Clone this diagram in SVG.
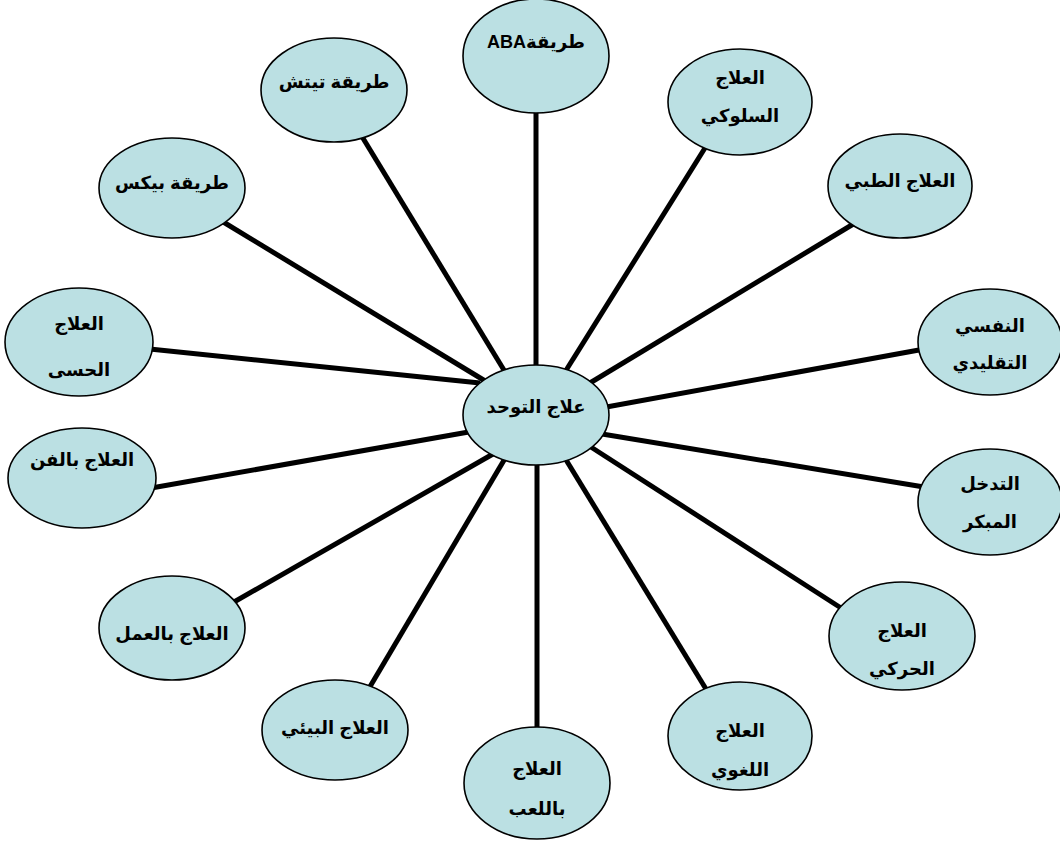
<svg xmlns="http://www.w3.org/2000/svg" width="1060" height="843" viewBox="0 0 1060 843">
<style>
.n ellipse{fill:#BBE0E3;stroke:#000;stroke-width:1.6}
.n text{font-family:"Liberation Sans","DejaVu Sans",sans-serif;font-weight:bold;font-size:18px;text-anchor:middle;fill:#000;direction:rtl}
#connectors line{stroke:#000;stroke-width:5}
</style>
<rect width="1060" height="843" fill="#fff"/>
<g id="connectors">
<line x1="536" y1="100" x2="536" y2="380"/>
<line x1="358" y1="130" x2="510" y2="380"/>
<line x1="710" y1="140" x2="560" y2="380"/>
<line x1="220" y1="220" x2="500" y2="390"/>
<line x1="860" y1="220" x2="575" y2="392"/>
<line x1="140" y1="348" x2="480" y2="383"/>
<line x1="930" y1="348" x2="590" y2="410"/>
<line x1="140" y1="490" x2="480" y2="430"/>
<line x1="930" y1="488" x2="590" y2="432"/>
<line x1="220" y1="610" x2="500" y2="450"/>
<line x1="855" y1="617" x2="580" y2="440"/>
<line x1="355" y1="712" x2="510" y2="450"/>
<line x1="720" y1="712" x2="560" y2="450"/>
<line x1="537" y1="740" x2="537" y2="450"/>
</g>
<g id="center" class="n"><ellipse cx="536" cy="415" rx="73" ry="50"/><text x="536" y="413">علاج التوحد</text></g>
<g id="aba" class="n"><ellipse cx="536" cy="56" rx="73" ry="57"/><text x="536" y="48">طريقةABA</text></g>
<g id="teach" class="n"><ellipse cx="334" cy="90" rx="73" ry="52"/><text x="334" y="88">طريقة تيتش</text></g>
<g id="behav" class="n"><ellipse cx="740" cy="102" rx="72" ry="53"/><text x="740" y="84">العلاج</text><text x="740" y="122">السلوكي</text></g>
<g id="pecs" class="n"><ellipse cx="172" cy="188" rx="73" ry="50"/><text x="172" y="189">طريقة بيكس</text></g>
<g id="medical" class="n"><ellipse cx="900" cy="186" rx="72" ry="52"/><text x="900" y="187">العلاج الطبي</text></g>
<g id="sensory" class="n"><ellipse cx="79" cy="342" rx="74" ry="54"/><text x="79" y="330">العلاج</text><text x="79" y="376">الحسى</text></g>
<g id="psych" class="n"><ellipse cx="990" cy="342" rx="72" ry="53"/><text x="990" y="332">النفسي</text><text x="990" y="369">التقليدي</text></g>
<g id="art" class="n"><ellipse cx="82" cy="478" rx="74" ry="50"/><text x="82" y="466">العلاج بالفن</text></g>
<g id="early" class="n"><ellipse cx="990" cy="502" rx="72" ry="53"/><text x="990" y="490">التدخل</text><text x="990" y="528">المبكر</text></g>
<g id="work" class="n"><ellipse cx="172" cy="628" rx="73" ry="52"/><text x="172" y="640">العلاج بالعمل</text></g>
<g id="motor" class="n"><ellipse cx="902" cy="636" rx="73" ry="54"/><text x="902" y="637">العلاج</text><text x="902" y="675">الحركي</text></g>
<g id="env" class="n"><ellipse cx="335" cy="730" rx="73" ry="50"/><text x="335" y="734">العلاج البيئي</text></g>
<g id="lang" class="n"><ellipse cx="740" cy="736" rx="72" ry="54"/><text x="740" y="737">العلاج</text><text x="740" y="776">اللغوي</text></g>
<g id="play" class="n"><ellipse cx="537" cy="783" rx="73" ry="56"/><text x="537" y="775">العلاج</text><text x="537" y="815">باللعب</text></g>
</svg>
